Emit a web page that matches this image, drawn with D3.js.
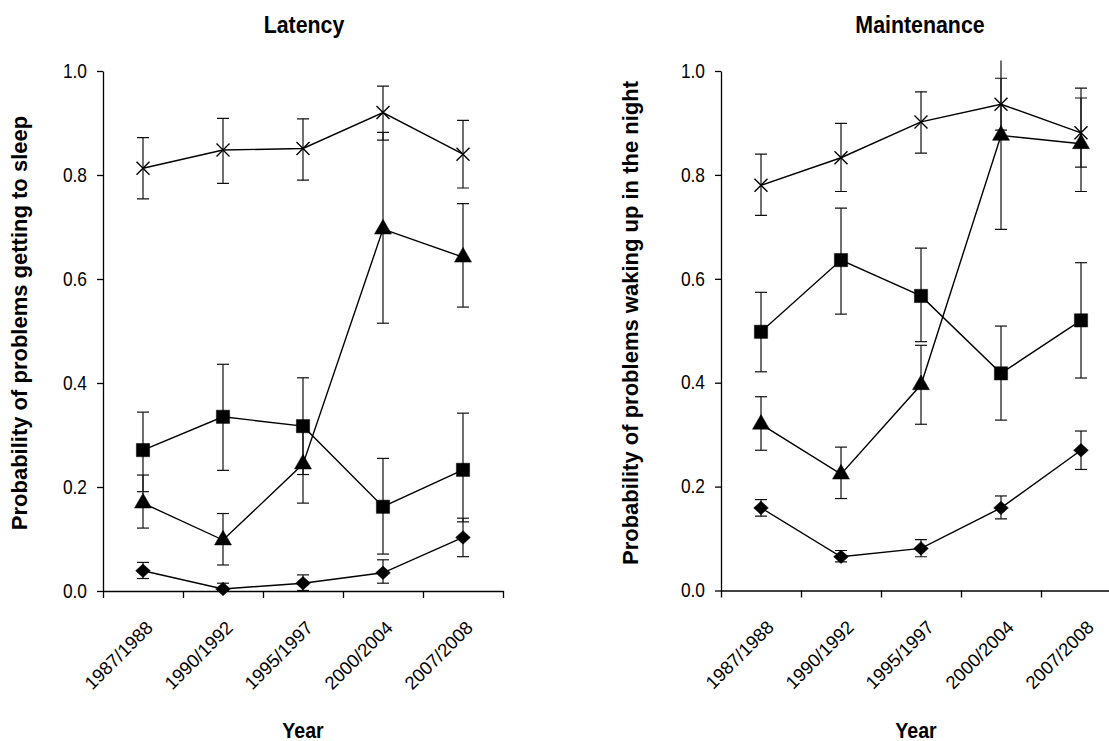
<!DOCTYPE html>
<html>
<head>
<meta charset="utf-8">
<script src="https://cdn.jsdelivr.net/npm/d3@7/dist/d3.min.js"></script>
<style>
  html, body { margin: 0; padding: 0; background: #fff; }
  svg { display: block; font-family: "Liberation Sans", Arial, Helvetica, sans-serif; }
</style>
</head>
<body>
<svg id="chart" width="1109" height="741"></svg>
<script>
// Survey periods on the x axis
const categories = ["1987/1988", "1990/1992", "1995/1997", "2000/2004", "2007/2008"];
const yTicks = [0, 0.2, 0.4, 0.6, 0.8, 1.0];

// Latency: probability of problems getting to sleep (estimate, lower and upper bounds)
const latencyCross = [0.813, 0.848, 0.851, 0.920, 0.840];
const latencyCrossLo = [0.754, 0.784, 0.790, 0.867, 0.775];
const latencyCrossHi = [0.872, 0.909, 0.908, 0.971, 0.905];

const latencyTriangle = [0.169, 0.098, 0.244, 0.696, 0.642];
const latencyTriangleLo = [0.121, 0.050, 0.169, 0.515, 0.546];
const latencyTriangleHi = [0.223, 0.149, 0.319, 0.882, 0.745];

const latencySquare = [0.271, 0.335, 0.317, 0.162, 0.233];
const latencySquareLo = [0.191, 0.232, 0.224, 0.071, 0.133];
const latencySquareHi = [0.344, 0.436, 0.410, 0.255, 0.342];

const latencyDiamond = [0.039, 0.004, 0.015, 0.035, 0.103];
const latencyDiamondLo = [0.024, 0.000, 0.001, 0.015, 0.066];
const latencyDiamondHi = [0.055, 0.015, 0.031, 0.060, 0.140];

// Maintenance: probability of problems waking up in the night
const maintenanceCross = [0.780, 0.833, 0.902, 0.936, 0.881];
const maintenanceCrossLo = [0.722, 0.768, 0.842, 0.886, 0.815];
const maintenanceCrossHi = [0.840, 0.899, 0.960, 0.986, 0.967];

const maintenanceTriangle = [0.320, 0.224, 0.396, 0.876, 0.860];
const maintenanceTriangleLo = [0.270, 0.177, 0.320, 0.695, 0.768];
const maintenanceTriangleHi = [0.373, 0.276, 0.472, 1.058, 0.948];

const maintenanceSquare = [0.498, 0.636, 0.567, 0.418, 0.520];
const maintenanceSquareLo = [0.421, 0.532, 0.479, 0.328, 0.409];
const maintenanceSquareHi = [0.574, 0.736, 0.659, 0.509, 0.631];

const maintenanceDiamond = [0.159, 0.065, 0.081, 0.159, 0.270];
const maintenanceDiamondLo = [0.143, 0.055, 0.065, 0.138, 0.233];
const maintenanceDiamondHi = [0.175, 0.077, 0.098, 0.182, 0.307];

function buildSeries(marker, v, lo, hi) {
  return { marker, points: categories.map((c, i) => ({ cat: c, v: v[i], lo: lo[i], hi: hi[i] })) };
}

const panels = [
  {
    title: "Latency",
    ylabel: "Probability of problems getting to sleep",
    x0: 103, x1: 503, yTop: 71, yBot: 591,
    titleX: 304, yearX: 303, ylabelX: 27, labelShift: 11,
    series: [
      buildSeries("cross", latencyCross, latencyCrossLo, latencyCrossHi),
      buildSeries("triangle", latencyTriangle, latencyTriangleLo, latencyTriangleHi),
      buildSeries("square", latencySquare, latencySquareLo, latencySquareHi),
      buildSeries("diamond", latencyDiamond, latencyDiamondLo, latencyDiamondHi)
    ]
  },
  {
    title: "Maintenance",
    ylabel: "Probability of problems waking up in the night",
    x0: 721, x1: 1121, yTop: 71, yBot: 590.5,
    titleX: 920, yearX: 916, ylabelX: 638, labelShift: 14,
    series: [
      buildSeries("cross", maintenanceCross, maintenanceCrossLo, maintenanceCrossHi),
      buildSeries("triangle", maintenanceTriangle, maintenanceTriangleLo, maintenanceTriangleHi),
      buildSeries("square", maintenanceSquare, maintenanceSquareLo, maintenanceSquareHi),
      buildSeries("diamond", maintenanceDiamond, maintenanceDiamondLo, maintenanceDiamondHi)
    ]
  }
];

const svg = d3.select("#chart");
const squeeze = 0.89; // horizontal text proportion

const markerPaths = {
  square: d3.symbol(d3.symbolSquare, 175)(),
  triangle: d3.symbol(d3.symbolTriangle, 125)(),
  diamond: d3.symbol(d3.symbolSquare, 108)(),
  cross: "M-6.5,-6.5L6.5,6.5M-6.5,6.5L6.5,-6.5"
};

panels.forEach((p, pi) => {
  const x = d3.scalePoint(categories, [p.x0, p.x1]).padding(0.5);
  const xEdge = d3.scaleLinear([0, categories.length], [p.x0, p.x1]);
  const y = d3.scaleLinear([0, 1], [p.yBot, p.yTop]);

  const g = svg.append("g");

  // clip for bars running past the top of the axis
  const clipId = "clip" + pi;
  svg.append("clipPath").attr("id", clipId)
    .append("rect").attr("x", p.x0).attr("y", y(1.02))
    .attr("width", p.x1 - p.x0).attr("height", p.yBot - y(1.02) + 20);

  // y axis
  const yAxis = g.append("g")
    .attr("transform", `translate(${p.x0},0)`)
    .call(d3.axisLeft(y).tickValues(yTicks).tickFormat(d3.format(".1f")).tickSize(6).tickSizeOuter(0));
  yAxis.selectAll(".tick text")
    .attr("x", -18)
    .attr("transform", `scale(${squeeze},1)`)
    .style("font-size", "19.5px")
    .attr("fill", "#000");

  // x axis: ticks on category boundaries
  const xAxis = g.append("g")
    .attr("transform", `translate(0,${p.yBot})`)
    .call(d3.axisBottom(xEdge).tickValues(d3.range(categories.length + 1)).tickFormat("").tickSize(7).tickSizeOuter(0));

  [yAxis, xAxis].forEach(a => {
    a.select(".domain").attr("stroke", "#000").attr("stroke-width", 1.3);
    a.selectAll(".tick line").attr("stroke", "#000").attr("stroke-width", 1.3);
  });

  // rotated category labels
  g.append("g").selectAll("text")
    .data(categories)
    .join("text")
    .attr("transform", d => `translate(${x(d) + p.labelShift},${p.yBot + 38}) rotate(-45)`)
    .attr("text-anchor", "end")
    .style("font-size", "18.5px")
    .attr("fill", "#000")
    .text(d => d);

  // title
  g.append("text")
    .attr("transform", `translate(${p.titleX},33) scale(${squeeze},1)`)
    .attr("text-anchor", "middle")
    .style("font-size", "24px").style("font-weight", "bold")
    .text(p.title);

  // x axis title
  g.append("text")
    .attr("transform", `translate(${p.yearX},738) scale(${squeeze},1)`)
    .attr("text-anchor", "middle")
    .style("font-size", "22px").style("font-weight", "bold")
    .text("Year");

  // y axis title
  g.append("text")
    .attr("transform", `translate(${p.ylabelX},323) rotate(-90)`)
    .attr("text-anchor", "middle")
    .style("font-size", "22px").style("font-weight", "bold")
    .text(p.ylabel);

  const plot = g.append("g");

  // error bars
  const bars = plot.append("g").attr("clip-path", `url(#${clipId})`)
    .attr("stroke", "#111").attr("stroke-width", 1.2).attr("fill", "none");
  p.series.forEach(s => {
    s.points.forEach(pt => {
      const cx = x(pt.cat);
      bars.append("line").attr("x1", cx).attr("x2", cx).attr("y1", y(pt.lo)).attr("y2", y(pt.hi));
      [pt.lo, pt.hi].forEach(b => {
        bars.append("line").attr("x1", cx - 6).attr("x2", cx + 6).attr("y1", y(b)).attr("y2", y(b));
      });
    });
  });

  // connecting lines
  const line = d3.line().x(d => x(d.cat)).y(d => y(d.v));
  p.series.forEach(s => {
    plot.append("path").datum(s.points)
      .attr("d", line).attr("fill", "none").attr("stroke", "#000").attr("stroke-width", 1.4);
  });

  // markers
  p.series.forEach(s => {
    plot.append("g").selectAll("path")
      .data(s.points)
      .join("path")
      .attr("d", markerPaths[s.marker])
      .attr("transform", d => `translate(${x(d.cat)},${y(d.v)})` + (s.marker === "diamond" ? " scale(1,0.92) rotate(45)" : ""))
      .attr("fill", s.marker === "cross" ? "none" : "#000")
      .attr("stroke", "#000")
      .attr("stroke-width", s.marker === "cross" ? 1.4 : 0.5);
  });
});
</script>
</body>
</html>
